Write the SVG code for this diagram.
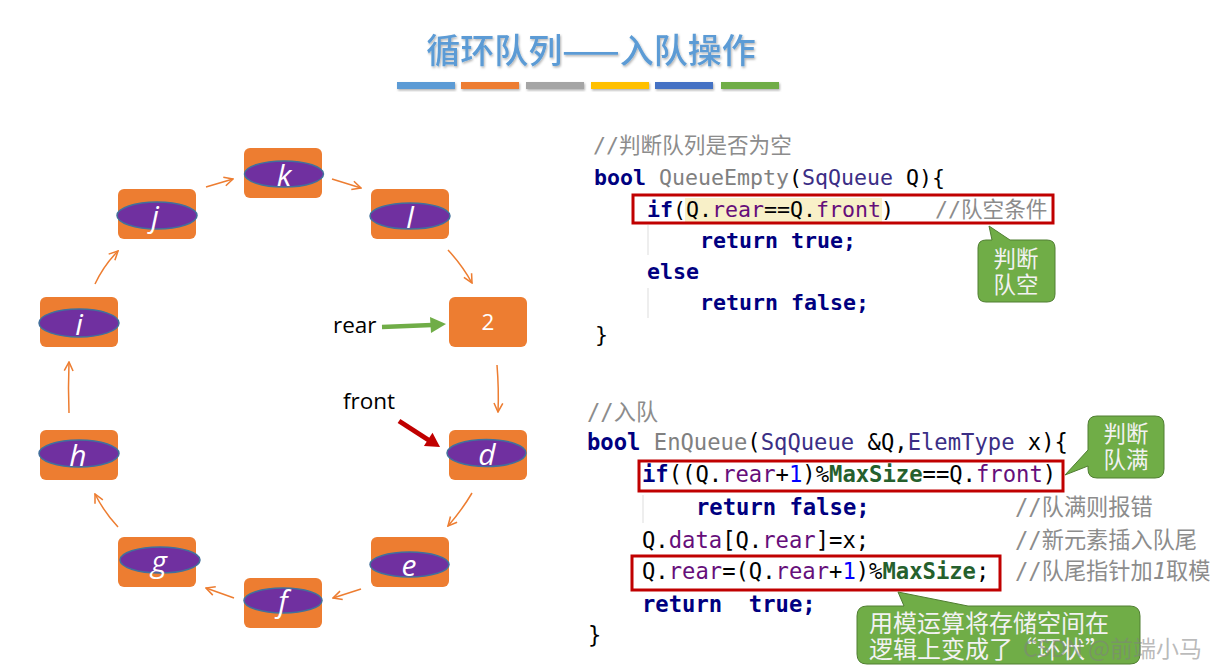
<svg xmlns="http://www.w3.org/2000/svg" width="1213" height="668" viewBox="0 0 1213 668">
<style>
.title{font-family:"Noto Sans CJK SC","Noto Sans",sans-serif;font-size:34px;font-weight:500;fill:#5b9bd5;text-anchor:middle}
.box{fill:#ed7d31}
.ell{fill:#7030a0;stroke:#41719c;stroke-width:1.5}
.let{font-family:"Open Sans","Liberation Sans",sans-serif;font-style:italic;font-size:30px;fill:#ffffff;text-anchor:middle}
.lbl{font-family:"Open Sans","Liberation Sans",sans-serif;font-size:22.5px;fill:#000000}
.conn{fill:none;stroke:#ed7d31;stroke-width:1.5}
.code{font-family:"DejaVu Sans Mono","Noto Sans CJK SC",monospace;fill:#000000}
.c1{font-size:21.6px}
.c2{font-size:22.2px}
.kw{font-weight:bold;fill:#000080}
.fn{fill:#808080}
.ty{fill:#3b2e85}
.fd{fill:#660e7a}
.num{fill:#0000ff}
.mc{fill:#25602d;font-weight:bold}
.cm{fill:#8c8c8c}
.redbox{fill:none;stroke:#c00000;stroke-width:3}
.guide{stroke:#e3e3e3;stroke-width:1.2}
.callout{fill:#70ad47;stroke:#507e32;stroke-width:1}
.ctext{font-family:"Noto Sans CJK SC",sans-serif;fill:#f2f2f2}
</style>
<defs>
<filter id="sh" x="-5%" y="-20%" width="110%" height="150%">
<feDropShadow dx="1" dy="1.5" stdDeviation="1" flood-color="#000000" flood-opacity="0.3"/>
</filter>
<marker id="oa" viewBox="0 0 10 10" refX="9" refY="5" markerWidth="11" markerHeight="11" markerUnits="userSpaceOnUse" orient="auto">
<path d="M1,1 L9,5 L1,9" fill="none" stroke="#ed7d31" stroke-width="1.4"/>
</marker>
</defs>
<rect width="1213" height="668" fill="#ffffff"/>

<g id="title">
<text class="title" x="591" y="63" filter="url(#sh)">循环队列——入队操作</text>
<g filter="url(#sh)">
<rect x="397" y="82" width="58" height="7" fill="#5b9bd5"/>
<rect x="461" y="82" width="58" height="7" fill="#ed7d31"/>
<rect x="526" y="82" width="58" height="7" fill="#a5a5a5"/>
<rect x="591" y="82" width="58" height="7" fill="#ffc000"/>
<rect x="655" y="82" width="58" height="7" fill="#4472c4"/>
<rect x="721" y="82" width="58" height="7" fill="#70ad47"/>
</g>
</g>

<g id="node-k"><rect class="box" x="244" y="148" width="78" height="50" rx="6"/><ellipse class="ell" cx="284" cy="174" rx="39.5" ry="13"/><text class="let" x="284" y="186">k</text></g>
<g id="node-j"><rect class="box" x="118" y="189" width="78" height="50" rx="6"/><ellipse class="ell" cx="157" cy="215.5" rx="40" ry="13.5"/><text class="let" x="155" y="227">j</text></g>
<g id="node-l"><rect class="box" x="371" y="189" width="78" height="50" rx="6"/><ellipse class="ell" cx="410" cy="216" rx="40" ry="13"/><text class="let" x="410" y="228">l</text></g>
<g id="node-i"><rect class="box" x="40" y="297" width="78" height="50" rx="6"/><ellipse class="ell" cx="79" cy="323" rx="40" ry="14"/><text class="let" x="79" y="335">i</text></g>
<g id="node-2"><rect class="box" x="449" y="297" width="78" height="50" rx="6"/><text class="lbl" x="488" y="330" text-anchor="middle" style="fill:#ffffff">2</text></g>
<g id="node-h"><rect class="box" x="40" y="430" width="78" height="50" rx="6"/><ellipse class="ell" cx="79" cy="453.5" rx="40" ry="13.5"/><text class="let" x="78" y="466">h</text></g>
<g id="node-d"><rect class="box" x="449" y="430" width="78" height="50" rx="6"/><ellipse class="ell" cx="486.5" cy="453" rx="39.5" ry="13.5"/><text class="let" x="487" y="465">d</text></g>
<g id="node-g"><rect class="box" x="118" y="537" width="78" height="50" rx="6"/><ellipse class="ell" cx="160" cy="560" rx="40" ry="13"/><text class="let" x="159" y="572">g</text></g>
<g id="node-e"><rect class="box" x="371" y="537" width="78" height="50" rx="6"/><ellipse class="ell" cx="409.5" cy="564.5" rx="39.5" ry="12.5"/><text class="let" x="409" y="576">e</text></g>
<g id="node-f"><rect class="box" x="244" y="578" width="78" height="50" rx="6"/><ellipse class="ell" cx="283" cy="600.5" rx="39" ry="12.5"/><text class="let" x="283" y="612">f</text></g>

<g id="label-rear"><text class="lbl" x="333" y="333">rear</text></g>
<g id="label-front"><text class="lbl" x="343" y="409">front</text></g>

<g id="connectors">
<path class="conn" d="M95,284 Q104,265 118,251" marker-end="url(#oa)"/>
<path class="conn" d="M206,187 L233,179" marker-end="url(#oa)"/>
<path class="conn" d="M332,179 L361,188" marker-end="url(#oa)"/>
<path class="conn" d="M448,250 Q462,265 472,283" marker-end="url(#oa)"/>
<path class="conn" d="M497,365 Q499,390 498,412" marker-end="url(#oa)"/>
<path class="conn" d="M472,493 Q462,510 448,526" marker-end="url(#oa)"/>
<path class="conn" d="M361,589 L333,598" marker-end="url(#oa)"/>
<path class="conn" d="M234,598 L206,588" marker-end="url(#oa)"/>
<path class="conn" d="M118,527 Q104,512 95,494" marker-end="url(#oa)"/>
<path class="conn" d="M69,413 Q68,388 69,362" marker-end="url(#oa)"/>
<line x1="382" y1="327" x2="432" y2="325" stroke="#70ad47" stroke-width="4.5"/>
<polygon points="430,317 446,324 431,333" fill="#70ad47"/>
<line x1="399" y1="421" x2="430" y2="441" stroke="#c00000" stroke-width="5"/>
<polygon points="423.9,446.1 440,447 432.5,432.7" fill="#c00000"/>
</g>

<g id="code-empty" class="code c1">
<rect x="685" y="198" width="197" height="24" fill="#f8f0c8"/>
<line class="guide" x1="648" y1="225" x2="648" y2="255"/>
<line class="guide" x1="648" y1="288" x2="648" y2="318"/>
<text xml:space="preserve" x="593" y="153" class="cm">//判断队列是否为空</text>
<text xml:space="preserve" x="594" y="185"><tspan class="kw">bool</tspan> <tspan class="fn">QueueEmpty</tspan>(<tspan class="ty">SqQueue</tspan> Q){</text>
<text xml:space="preserve" x="647" y="217"><tspan class="kw">if</tspan>(Q.<tspan class="fd">rear</tspan>==Q.<tspan class="fd">front</tspan>)</text>
<text xml:space="preserve" x="935" y="217" class="cm">//队空条件</text>
<text xml:space="preserve" x="700" y="248" class="kw">return true;</text>
<text xml:space="preserve" x="647" y="279" class="kw">else</text>
<text xml:space="preserve" x="700" y="310" class="kw">return false;</text>
<text xml:space="preserve" x="595" y="342">}</text>
<rect class="redbox" x="633" y="195" width="420" height="28"/>
</g>

<g id="callout-empty">
<path class="callout" d="M986,240 L992,240 L989,226 L1010,240 L1047,240 Q1055,240 1055,248 L1055,294 Q1055,302 1047,302 L986,302 Q978,302 978,294 L978,248 Q978,240 986,240 Z"/>
<text class="ctext" x="1016" y="267" font-size="22.5" text-anchor="middle">判断</text>
<text class="ctext" x="1016" y="293" font-size="22.5" text-anchor="middle">队空</text>
</g>

<g id="code-enqueue" class="code c2">
<line class="guide" x1="643" y1="495" x2="643" y2="523"/>
<text xml:space="preserve" x="587" y="420" class="cm">//入队</text>
<text xml:space="preserve" x="587" y="450"><tspan class="kw">bool</tspan> <tspan class="fn">EnQueue</tspan>(<tspan class="ty">SqQueue</tspan> &amp;Q,<tspan class="ty">ElemType</tspan> x){</text>
<text xml:space="preserve" x="642" y="482"><tspan class="kw">if</tspan>((Q.<tspan class="fd">rear</tspan>+<tspan class="num">1</tspan>)%<tspan class="mc">MaxSize</tspan>==Q.<tspan class="fd">front</tspan>)</text>
<text xml:space="preserve" x="696" y="515" class="kw">return false;</text>
<text xml:space="preserve" x="1015" y="515" class="cm">//队满则报错</text>
<text xml:space="preserve" x="642" y="548">Q.<tspan class="fd">data</tspan>[Q.<tspan class="fd">rear</tspan>]=x;</text>
<text xml:space="preserve" x="1015" y="548" class="cm">//新元素插入队尾</text>
<text xml:space="preserve" x="642" y="579">Q.<tspan class="fd">rear</tspan>=(Q.<tspan class="fd">rear</tspan>+<tspan class="num">1</tspan>)%<tspan class="mc">MaxSize</tspan>;</text>
<text xml:space="preserve" x="1015" y="579" class="cm">//队尾指针加<tspan font-style="italic">1</tspan>取模</text>
<text xml:space="preserve" x="642" y="612" class="kw">return  true;</text>
<text xml:space="preserve" x="588" y="643">}</text>
<rect class="redbox" x="639" y="461" width="424" height="30"/>
<rect class="redbox" x="632" y="556" width="368" height="34"/>
</g>

<g id="callout-full">
<path class="callout" d="M1097,416 L1155,416 Q1164,416 1164,425 L1164,469 Q1164,478 1155,478 L1097,478 Q1088,478 1088,469 L1088,466 L1065,475 L1088,450 L1088,425 Q1088,416 1097,416 Z"/>
<text class="ctext" x="1126" y="442" font-size="22.5" text-anchor="middle">判断</text>
<text class="ctext" x="1126" y="468" font-size="22.5" text-anchor="middle">队满</text>
</g>

<g id="callout-mod">
<path class="callout" d="M867,606 L904,606 L898,592 L968,606 L1130,606 Q1140,606 1140,616 L1140,654 Q1140,664 1130,664 L867,664 Q857,664 857,654 L857,616 Q857,606 867,606 Z"/>
<text class="ctext" x="869" y="632" font-size="24">用模运算将存储空间在</text>
<text class="ctext" x="869" y="658" font-size="24">逻辑上变成了“环状”</text>
</g>

<g id="watermark">
<text x="1023" y="657" font-family="Noto Sans CJK SC, sans-serif" font-size="23" fill="#808080" fill-opacity="0.55">CSDN @前端小马</text>
</g>
</svg>
